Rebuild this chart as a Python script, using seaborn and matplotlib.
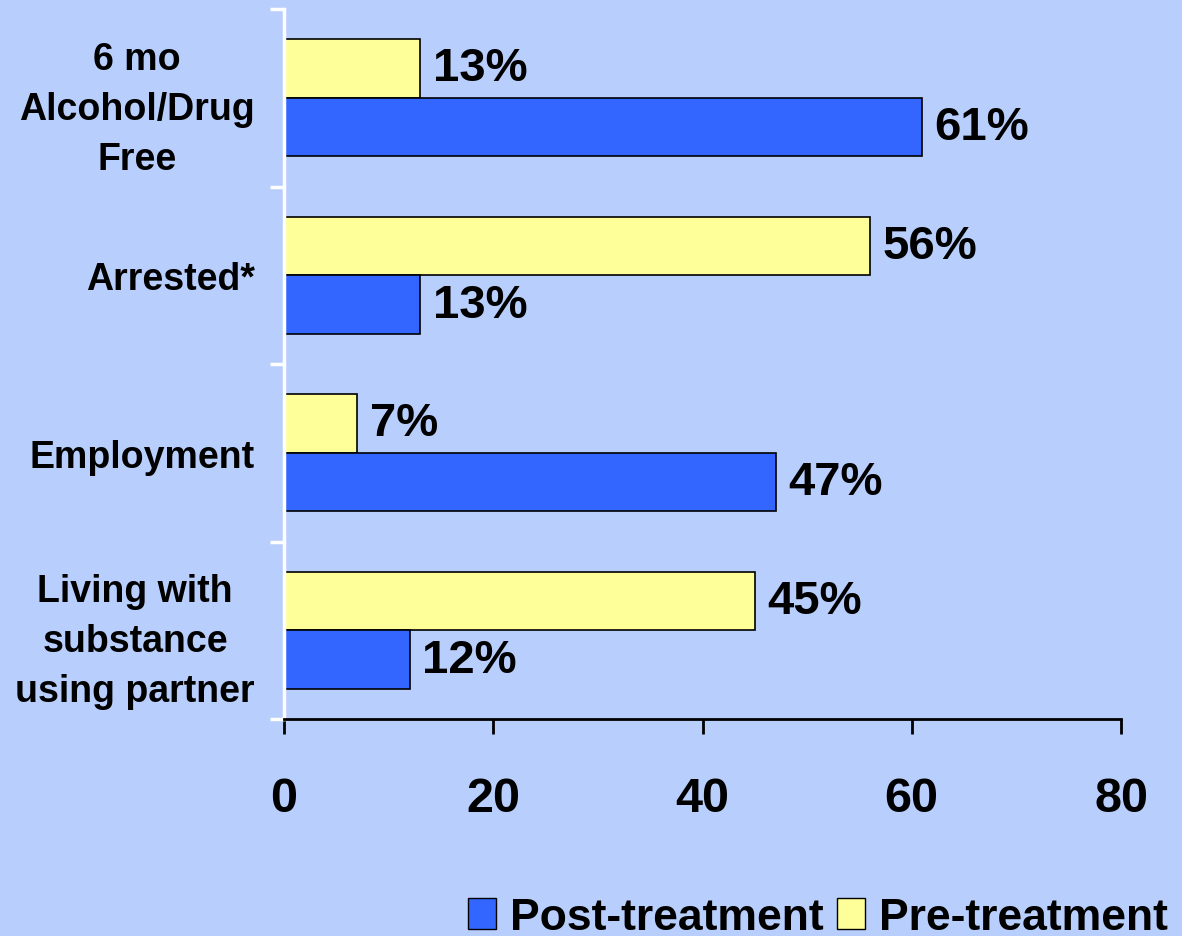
import matplotlib
matplotlib.use("Agg")
import matplotlib.pyplot as plt
import seaborn as sns
import pandas as pd
from matplotlib.patches import Patch

# Outcome categories (top to bottom) and percentages for each treatment phase
categories = ["6 mo\nAlcohol/Drug\nFree", "Arrested*", "Employment",
              "Living with\nsubstance\nusing partner"]
pre_treatment = [13, 56, 7, 45]
post_treatment = [61, 13, 47, 12]
series = ["Pre-treatment", "Post-treatment"]
x_ticks = [0, 20, 40, 60, 80]

BG = "#B8CEFC"
COLORS = {"Pre-treatment": "#FFFF99", "Post-treatment": "#3366FF"}

df = pd.DataFrame({
    "category": categories * 2,
    "series": [series[0]] * len(categories) + [series[1]] * len(categories),
    "value": pre_treatment + post_treatment,
})

sns.set_theme(style="white")
plt.rcParams["font.family"] = ["Liberation Sans", "DejaVu Sans"]
plt.rcParams["font.weight"] = "bold"
plt.rcParams["text.color"] = "black"
plt.rcParams["xtick.color"] = "black"
plt.rcParams["ytick.color"] = "black"
plt.rcParams["xtick.labelcolor"] = "black"
plt.rcParams["ytick.labelcolor"] = "black"

fig = plt.figure(figsize=(11.82, 9.37), dpi=100, facecolor=BG)
ax = fig.add_axes([284 / 1182, 217 / 937, 837 / 1182, 710 / 937])
ax.set_facecolor(BG)

sns.barplot(data=df, y="category", x="value", hue="series",
            order=categories, hue_order=series, palette=COLORS,
            orient="h", width=0.66, gap=0, edgecolor="black", linewidth=1.2,
            saturation=1, legend=False, ax=ax)

# Percentage labels at the end of each bar
for container, vals in zip(ax.containers, [pre_treatment, post_treatment]):
    ax.bar_label(container, labels=[f"{v}%" for v in vals], padding=9,
                 fontsize=34, fontweight="bold", color="black")

ax.set_xlim(x_ticks[0], x_ticks[-1])
ax.set_xticks(x_ticks)
ax.set_xticklabels([str(t) for t in x_ticks], fontsize=35, fontweight="bold",
                   color="black")
ax.set_xlabel("")
ax.set_ylabel("")

# Category labels centred on the bars; white ticks sit between categories
ax.set_yticks(range(len(categories)))
ax.set_yticklabels(categories, fontsize=27, fontweight="bold", color="black",
                   multialignment="center", linespacing=1.5)
ax.set_yticks([i - 0.5 for i in range(len(categories) + 1)], minor=True)
ax.tick_params(axis="y", which="major", length=0, pad=21)
ax.tick_params(axis="y", which="minor", length=10, width=2.5,
               color="white", direction="out", left=True)
ax.tick_params(axis="x", which="major", length=11, width=2, color="black",
               direction="out", bottom=True, pad=30)

for side in ("top", "right"):
    ax.spines[side].set_visible(False)
ax.spines["left"].set_color("white")
ax.spines["left"].set_linewidth(2.5)
ax.spines["bottom"].set_color("black")
ax.spines["bottom"].set_linewidth(2)

handles = [Patch(facecolor=COLORS["Post-treatment"], edgecolor="black", linewidth=1),
           Patch(facecolor=COLORS["Pre-treatment"], edgecolor="black", linewidth=1)]
leg = fig.legend(handles=handles, labels=["Post-treatment", "Pre-treatment"],
                 loc="lower right", bbox_to_anchor=(1190 / 1182, -0.026), ncol=2,
                 frameon=False, handlelength=0.63, handleheight=0.7,
                 handletextpad=0.32, columnspacing=0.3, borderpad=0,
                 prop={"weight": "bold", "size": 32})
for t in leg.get_texts():
    t.set_color("black")

fig.savefig("out.png", dpi=100, facecolor=BG)
